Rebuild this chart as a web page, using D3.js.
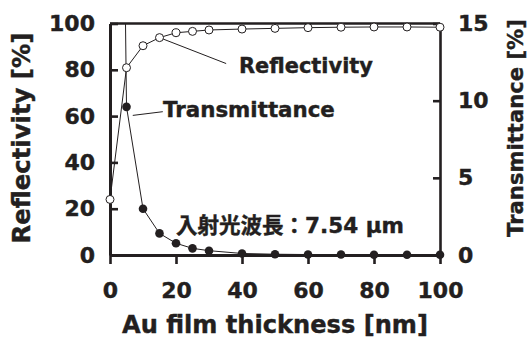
<!DOCTYPE html>
<html>
<head>
<meta charset="utf-8">
<script src="https://cdn.jsdelivr.net/npm/d3@7"></script>
<style>
  body { margin: 0; background: #fff; }
  text { font-family: "DejaVu Sans", "Noto Sans CJK JP", sans-serif; font-weight: bold; fill: #231f20; }
</style>
</head>
<body>
<div id="chart"></div>
<script>
// values
const thickness = [0, 5, 10, 15, 20, 25, 30, 40, 50, 60, 70, 80, 90, 100];
const reflectivity = [24, 80.9, 90.4, 93.9, 96.0, 96.6, 97.2, 97.6, 97.9, 98.2, 98.4, 98.5, 98.5, 98.4];
const transmittance = [100, 9.6, 3.0, 1.4, 0.76, 0.43, 0.28, 0.1, 0.05, 0.03, 0.03, 0.02, 0.02, 0.02];
const xTicks = [0, 20, 40, 60, 80, 100];
const leftTicks = [0, 20, 40, 60, 80, 100];
const rightTicks = [0, 5, 10, 15];

const width = 531, height = 338;
const margin = { top: 23.5, left: 110, right: 91, bottom: 83 };
const iw = width - margin.left - margin.right;
const ih = height - margin.top - margin.bottom;
const ink = "#231f20";

const svg = d3.select("#chart").append("svg")
    .attr("width", width)
    .attr("height", height);

const g = svg.append("g").attr("transform", `translate(${margin.left},${margin.top})`);

const x = d3.scaleLinear().domain([0, 100]).range([0, iw]);
const yL = d3.scaleLinear().domain([0, 100]).range([ih, 0]);
const yR = d3.scaleLinear().domain([0, 15]).range([ih, 0]);

g.append("defs").append("clipPath").attr("id", "plot")
  .append("rect").attr("width", iw).attr("height", ih);

// top frame
g.append("line")
  .attr("x1", 0).attr("x2", iw).attr("y1", 0).attr("y2", 0)
  .attr("stroke", ink).attr("stroke-width", 2.6);

const xAxis = g.append("g")
  .attr("transform", `translate(0,${ih})`)
  .call(d3.axisBottom(x).tickValues(xTicks).tickSize(9).tickSizeOuter(0).tickPadding(18));

const yAxisL = g.append("g")
  .call(d3.axisLeft(yL).tickValues(leftTicks).tickSize(-8).tickSizeOuter(0).tickPadding(15));

const yAxisR = g.append("g")
  .attr("transform", `translate(${iw},0)`)
  .call(d3.axisRight(yR).tickValues(rightTicks).tickSize(-7).tickSizeOuter(0).tickPadding(18));

[xAxis, yAxisL, yAxisR].forEach(a => {
  a.select(".domain").attr("stroke", ink).attr("stroke-width", 3);
  a.selectAll(".tick line").attr("stroke", ink).attr("stroke-width", 2.6);
  a.selectAll(".tick text").attr("fill", ink).attr("stroke", ink).attr("stroke-width", 0.4).style("font-size", "22px");
});
yAxisR.select(".domain").attr("stroke-width", 2.6);

// data
const rData = thickness.map((t, i) => ({ t: t, v: reflectivity[i] }));
const tData = thickness.map((t, i) => ({ t: t, v: transmittance[i] }));

g.append("path").datum(rData)
  .attr("fill", "none").attr("stroke", ink).attr("stroke-width", 1)
  .attr("d", d3.line().x(d => x(d.t)).y(d => yL(d.v)));

g.append("path").datum(tData)
  .attr("clip-path", "url(#plot)")
  .attr("fill", "none").attr("stroke", ink).attr("stroke-width", 1)
  .attr("d", d3.line().x(d => x(d.t)).y(d => yR(d.v)));

// leader lines
g.append("line")
  .attr("x1", x(15)).attr("y1", yL(reflectivity[3]))
  .attr("x2", x(35.2)).attr("y2", yL(82.7))
  .attr("stroke", ink).attr("stroke-width", 1);
g.append("line")
  .attr("x1", x(6.9)).attr("y1", yL(60.3))
  .attr("x2", x(16)).attr("y2", yL(61.9))
  .attr("stroke", ink).attr("stroke-width", 1);

g.selectAll(".rdot").data(rData).enter().append("circle")
  .attr("cx", d => x(d.t)).attr("cy", d => yL(d.v)).attr("r", 4)
  .attr("fill", "#fff").attr("stroke", ink).attr("stroke-width", 1);

g.selectAll(".tdot").data(tData.filter(d => d.v <= 15)).enter().append("circle")
  .attr("cx", d => x(d.t)).attr("cy", d => yR(d.v)).attr("r", 4.3)
  .attr("fill", ink);

// labels, font size fitted so the text spans the same width as in the figure
const label = (sel, txt, w) => {
  sel.text(txt).style("font-size", "20px").attr("stroke", ink).attr("stroke-width", 0.4);
  const len = sel.node().getComputedTextLength();
  sel.style("font-size", (20 * w / len) + "px");
  return sel;
};
label(svg.append("text").attr("x", 239).attr("y", 73), "Reflectivity", 134);
label(svg.append("text").attr("x", 163).attr("y", 117), "Transmittance", 172);
label(svg.append("text").attr("x", 176).attr("y", 233), "入射光波長：7.54 μm", 228);

label(svg.append("text").attr("x", 275).attr("y", 333)
  .attr("text-anchor", "middle"), "Au film thickness [nm]", 306);
label(svg.append("text").attr("transform", "translate(30,138) rotate(-90)")
  .attr("text-anchor", "middle"), "Reflectivity [%]", 211);
label(svg.append("text").attr("transform", "translate(523,128) rotate(-90)")
  .attr("text-anchor", "middle"), "Transmittance [%]", 218);
</script>
</body>
</html>
